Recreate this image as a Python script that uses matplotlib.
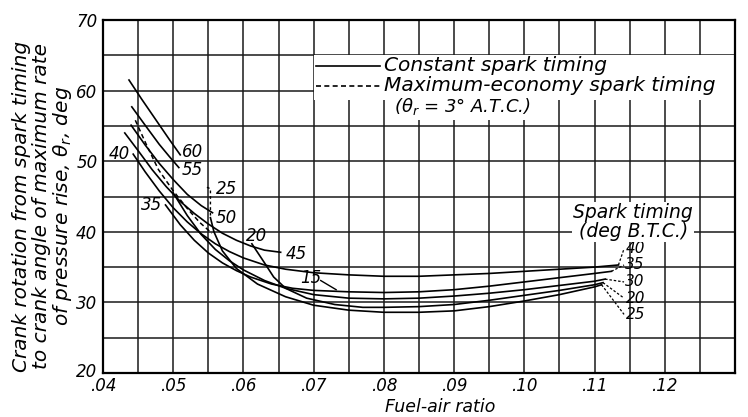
import numpy as np
import matplotlib.pyplot as plt
import matplotlib.transforms as mtransforms

# constant spark timing curves (deg B.T.C.)
fa_60 = [0.0437, 0.0455, 0.0475, 0.0495, 0.0510]
th_60 = [61.5, 58.8, 55.9, 53.0, 50.9]

fa_55 = [0.0441, 0.0460, 0.0480, 0.0495, 0.0508]
th_55 = [57.7, 55.1, 52.4, 50.6, 49.1]

fa_50 = [0.0440, 0.0460, 0.0480, 0.0500, 0.0520, 0.0540, 0.0556]
th_50 = [55.1, 52.3, 49.7, 47.4, 45.3, 43.7, 42.7]

fa_45 = [0.0431, 0.045, 0.047, 0.049, 0.051, 0.053, 0.055, 0.057, 0.059, 0.061, 0.063, 0.0653]
th_45 = [54.0, 51.5, 48.8, 46.4, 44.3, 42.6, 41.1, 39.8, 38.8, 38.0, 37.4, 37.1]

fa_40 = [0.0443, 0.046, 0.048, 0.050, 0.052, 0.054, 0.056, 0.058, 0.060, 0.063, 0.066, 0.070,
         0.075, 0.080, 0.085, 0.090, 0.095, 0.100, 0.105, 0.110, 0.1134]
th_40 = [51.0, 48.5, 45.8, 43.4, 41.4, 39.7, 38.3, 37.2, 36.3, 35.3, 34.7, 34.2,
         33.9, 33.7, 33.7, 33.9, 34.1, 34.4, 34.7, 35.0, 35.3]

fa_35 = [0.0489, 0.051, 0.053, 0.055, 0.057, 0.059, 0.061, 0.064, 0.067, 0.070, 0.075,
         0.080, 0.085, 0.090, 0.095, 0.100, 0.105, 0.110, 0.1124]
th_35 = [43.8, 41.0, 38.8, 37.0, 35.6, 34.5, 33.6, 32.6, 32.0, 31.7, 31.5,
         31.4, 31.5, 31.8, 32.3, 32.9, 33.5, 34.1, 34.4]

fa_30 = [0.0500, 0.052, 0.054, 0.056, 0.058, 0.060, 0.063, 0.066, 0.070, 0.075, 0.080,
         0.085, 0.090, 0.095, 0.100, 0.105, 0.110, 0.1115]
th_30 = [45.5, 42.3, 39.6, 37.5, 35.9, 34.6, 33.1, 32.0, 31.1, 30.6, 30.5,
         30.6, 30.9, 31.3, 31.8, 32.4, 33.0, 33.3]

fa_25 = [0.0553, 0.0558, 0.057, 0.059, 0.062, 0.066, 0.070, 0.075, 0.080, 0.085, 0.090,
         0.095, 0.100, 0.105, 0.110, 0.1110]
th_25 = [42.0, 40.0, 37.3, 34.8, 32.6, 30.8, 29.6, 28.9, 28.6, 28.6, 28.8,
         29.4, 30.2, 31.1, 32.2, 32.5]

fa_20 = [0.0612, 0.0630, 0.0643, 0.066, 0.069, 0.073, 0.077, 0.080, 0.085, 0.090,
         0.095, 0.100, 0.105, 0.110, 0.1112]
th_20 = [38.3, 35.6, 33.6, 32.0, 30.6, 29.7, 29.3, 29.3, 29.4, 29.7,
         30.3, 31.0, 31.7, 32.5, 32.8]

# maximum-economy spark timing (dashed)
fa_me = [0.0446, 0.0462, 0.0479, 0.0500, 0.0520, 0.0538, 0.0555]
th_me = [55.8, 52.3, 48.8, 45.8, 43.3, 41.3, 39.8]

x_ticks = [0.04, 0.05, 0.06, 0.07, 0.08, 0.09, 0.10, 0.11, 0.12]
x_labels = ['.04', '.05', '.06', '.07', '.08', '.09', '.10', '.11', '.12']
y_ticks = [20, 30, 40, 50, 60, 70]

fig = plt.figure(figsize=(7.48, 4.17), dpi=100)
ax = fig.add_axes([103/748, 44/417, 632/748, 353/417])
ax.set_xlim(0.04, 0.13)
ax.set_ylim(20, 70)
ax.set_axisbelow(True)

ax.set_xticks(x_ticks)
ax.set_xticklabels(x_labels)
ax.set_xticks(np.arange(0.045, 0.13, 0.01), minor=True)
ax.set_yticks(y_ticks)
ax.set_yticks([25, 35, 45, 55, 65], minor=True)
ax.tick_params(which='both', length=0, labelsize=12)
ax.tick_params(axis='x', pad=3)
ax.tick_params(axis='y', pad=4)
for t in ax.get_xticklabels() + ax.get_yticklabels():
    t.set_fontstyle('italic')
# nudge the corner label up a little
lab20 = ax.get_yticklabels()[0]
lab20.set_transform(lab20.get_transform() + mtransforms.ScaledTranslation(0, 3/100, fig.dpi_scale_trans))
ax.grid(True, which='both', color='#1a1a1a', linewidth=1.1)
for s in ax.spines.values():
    s.set_linewidth(1.6)

kw = dict(color='black', linewidth=1.2, zorder=3)
for fa, th in [(fa_60, th_60), (fa_55, th_55), (fa_50, th_50), (fa_45, th_45),
               (fa_40, th_40), (fa_35, th_35), (fa_30, th_30), (fa_25, th_25), (fa_20, th_20)]:
    ax.plot(fa, th, **kw)
ax.plot(fa_me, th_me, color='black', linewidth=1.1, linestyle=(0, (3, 2)), zorder=3)

txt = dict(fontsize=12, fontstyle='italic', zorder=4)

# labels on the left part
ax.text(0.0423, 51.0, '40', ha='center', va='center', **txt)
ax.text(0.0469, 43.8, '35', ha='center', va='center', **txt)
ax.text(0.0527, 51.3, '60', ha='center', va='center', **txt)
ax.text(0.0527, 48.7, '55', ha='center', va='center', **txt)
ax.text(0.0576, 46.1, '25', ha='center', va='center', **txt)
ax.plot([0.0548, 0.0553, 0.0553], [46.3, 46.1, 42.0], color='black', lw=1.0,
        linestyle=(0, (2, 2)), zorder=3)
ax.text(0.0576, 42.0, '50', ha='center', va='center', **txt)
ax.text(0.0619, 39.4, '20', ha='center', va='center', **txt)
ax.text(0.0676, 36.9, '45', ha='center', va='center', **txt)
ax.text(0.0696, 33.4, '15', ha='center', va='center', **txt)
ax.plot([0.0710, 0.0732], [33.1, 31.8], color='black', lw=1.0, zorder=3)

# right end labels
right_ends = [(0.1134, 35.3), (0.1124, 34.4), (0.1115, 33.3), (0.1112, 32.8), (0.1110, 32.5)]
right_lab = ['40', '35', '30', '20', '25']
right_y = [37.6, 35.3, 32.9, 30.6, 28.3]
for (xe, ye), lab, yl in zip(right_ends, right_lab, right_y):
    ax.plot([xe, 0.1142], [ye, yl], color='black', lw=0.9, linestyle=(0, (2, 1.5)), zorder=3)
    ax.text(0.1144, yl, lab, ha='left', va='center', fontsize=11, fontstyle='italic', zorder=4)

ax.text(0.1155, 41.4, 'Spark timing\n(deg B.T.C.)', ha='center', va='center',
        fontsize=13.5, fontstyle='italic', linespacing=1.0, zorder=4,
        bbox=dict(facecolor='white', edgecolor='none', pad=1))

# legend
ax.fill_between([0.0700, 0.1298], 58.6, 65.0, color='white', zorder=2, linewidth=0)
ax.plot([0.0703, 0.0795], [63.5, 63.5], color='black', lw=1.2, zorder=3)
ax.plot([0.0703, 0.0795], [60.7, 60.7], color='black', lw=1.2, linestyle=(0, (3, 2)), zorder=3)
ax.text(0.0800, 63.5, 'Constant spark timing', ha='left', va='center',
        fontsize=14.5, fontstyle='italic', zorder=4)
ax.text(0.0800, 60.7, 'Maximum-economy spark timing', ha='left', va='center',
        fontsize=14.5, fontstyle='italic', zorder=4)
ax.text(0.0815, 57.7, r'($\theta_r$ = 3° A.T.C.)', ha='left', va='center',
        fontsize=13, fontstyle='italic', zorder=4,
        bbox=dict(facecolor='white', edgecolor='none', pad=2))

# axis titles
fig.text(440/748, 1 - 407/417, 'Fuel-air ratio', ha='center', va='center',
         fontsize=12.5, fontstyle='italic')
ylab = ['Crank rotation from spark timing',
        'to crank angle of maximum rate',
        r'of pressure rise, $\theta_r$, deg']
for i, s in enumerate(ylab):
    fig.text((22 + 20*i)/748, 0.505, s, rotation=90, ha='center', va='center',
             fontsize=14.5, fontstyle='italic')

fig.savefig('out.png', dpi=100)
